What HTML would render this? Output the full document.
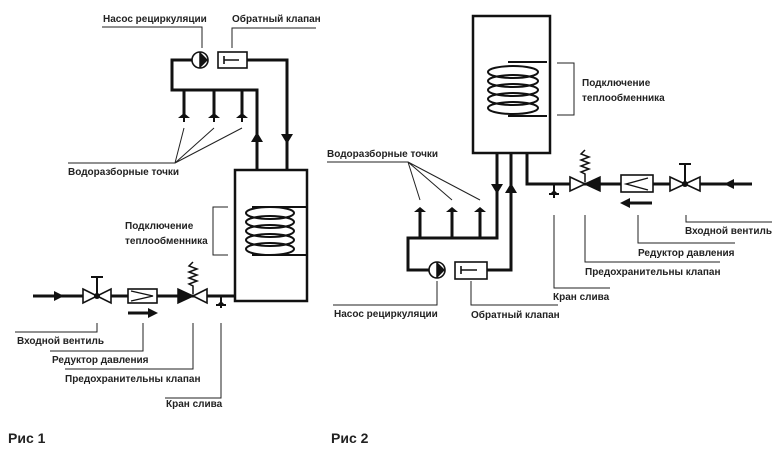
<!DOCTYPE html>
<html><head><meta charset="utf-8"><style>
html,body{margin:0;padding:0;background:#fff}
svg{display:block}
text{font-family:"Liberation Sans",sans-serif;font-size:10px;font-weight:bold;fill:#222}
.p{stroke:#111;stroke-width:3;fill:none}
.l{stroke:#222;stroke-width:1;fill:none}
.o{stroke:#111;stroke-width:1.6;fill:#fff}
</style></head><body>
<svg width="780" height="456" viewBox="0 0 780 456" xmlns="http://www.w3.org/2000/svg">
<!-- ===== FIG 1 ===== -->
<!-- recirculation loop -->
<path class="p" d="M192 60 H172 V90 H257 V170"/>
<path class="p" d="M247 60 H287 V170"/>
<path class="p" d="M184 90 V116 M214 90 V116 M242 90 V116"/>
<g fill="#111">
<path d="M178 118 L184 113 L190 118 Z"/><rect x="183" y="116" width="2" height="6"/>
<path d="M208 118 L214 113 L220 118 Z"/><rect x="213" y="116" width="2" height="6"/>
<path d="M236 118 L242 113 L248 118 Z"/><rect x="241" y="116" width="2" height="6"/>
<path d="M251 142 L257 132 L263 142 Z"/>
<path d="M281 134 L287 144 L293 134 Z"/>
</g>
<!-- pump -->
<circle class="o" cx="200" cy="60" r="8"/>
<path d="M200 52 L208 60 L200 68 Z" fill="#111"/>
<line x1="200" y1="52" x2="200" y2="68" stroke="#111" stroke-width="1.5"/>
<!-- check valve -->
<rect class="o" x="218" y="52" width="29" height="16"/>
<path d="M224 56 V64 M224 60 H239" stroke="#111" stroke-width="1.6"/>
<!-- labels top -->
<text x="103" y="22">Насос рециркуляции</text>
<path class="l" d="M102 27 H202 V48"/>
<text x="232" y="22">Обратный клапан</text>
<path class="l" d="M232 48 V28 H316"/>
<!-- water points leaders -->
<path class="l" d="M68 163 H175 L184 128 M175 163 L214 128 M175 163 L242 128"/>
<text x="68" y="175">Водоразборные точки</text>
<!-- tank -->
<rect x="235" y="170" width="72" height="131" fill="none" stroke="#111" stroke-width="2.5"/>
<g fill="none" stroke="#111" stroke-width="2">
<path d="M252 207 H307 M252 255 H307"/>
<ellipse cx="270" cy="213" rx="24" ry="6"/>
<ellipse cx="270" cy="222" rx="24" ry="6"/>
<ellipse cx="270" cy="231" rx="24" ry="6"/>
<ellipse cx="270" cy="240" rx="24" ry="6"/>
<ellipse cx="270" cy="249" rx="24" ry="6"/>
</g>
<path class="l" d="M228 207 H213 V255 H228"/>
<text x="125" y="229">Подключение</text>
<text x="125" y="244">теплообменника</text>
<!-- inlet line -->
<path class="p" d="M33 296 H235"/>
<path d="M54 291 L64 296 L54 301 Z" fill="#111"/>
<!-- inlet valve -->
<path class="o" d="M83 289 L111 303 V289 L83 303 Z"/>
<circle cx="97" cy="296" r="3" fill="#111"/>
<path d="M97 296 V277 M91 277 H103" stroke="#111" stroke-width="2"/>
<!-- reducer -->
<rect class="o" x="128" y="289" width="29" height="14"/>
<path d="M131 291 L153 296 L131 301" fill="none" stroke="#111" stroke-width="1.3"/>
<path d="M128 313 H150" stroke="#111" stroke-width="3"/>
<path d="M148 308 L158 313 L148 318 Z" fill="#111"/>
<!-- safety valve -->
<path d="M178 289 L193 296 L178 303 Z" fill="#111" stroke="#111" stroke-width="1.5"/>
<path class="o" d="M207 289 L193 296 L207 303 Z"/>
<path d="M193 294 V286 L189 284 L197 281 L189 278 L197 275 L189 272 L197 269 L189 266 L193 262" fill="none" stroke="#111" stroke-width="1.5"/>
<!-- drain -->
<path d="M221 296 V308 M216 305 H226" stroke="#111" stroke-width="2"/>
<path d="M217 305 L221 301 L225 305 Z" fill="#111"/>
<!-- leaders -->
<path class="l" d="M97 323 V332 H15"/>
<text x="17" y="344">Входной вентиль</text>
<path class="l" d="M143 323 V351 H50"/>
<text x="52" y="363">Редуктор давления</text>
<path class="l" d="M193 323 V369 H65"/>
<text x="65" y="382">Предохранительны клапан</text>
<path class="l" d="M221 323 V398 H165"/>
<text x="166" y="407">Кран слива</text>
<text x="8" y="443" style="font-size:14px">Рис 1</text>

<!-- ===== FIG 2 ===== -->
<rect x="473" y="16" width="77" height="137" fill="none" stroke="#111" stroke-width="2.5"/>
<g fill="none" stroke="#111" stroke-width="2">
<path d="M508 62 H547 M508 116 H547"/>
<ellipse cx="513" cy="72" rx="25" ry="6"/>
<ellipse cx="513" cy="81" rx="25" ry="6"/>
<ellipse cx="513" cy="90" rx="25" ry="6"/>
<ellipse cx="513" cy="99" rx="25" ry="6"/>
<ellipse cx="513" cy="108" rx="25" ry="6"/>
</g>
<path class="l" d="M557 63 H574 V115 H557"/>
<text x="582" y="86">Подключение</text>
<text x="582" y="101">теплообменника</text>
<!-- loop -->
<path class="p" d="M497 153 V238 H408 V270 H429"/>
<path class="p" d="M487 270 H511 V153"/>
<path class="p" d="M420 238 V212 M452 238 V212 M480 238 V212"/>
<g fill="#111">
<path d="M414 212 L420 207 L426 212 Z"/><rect x="419" y="210" width="2" height="6"/>
<path d="M446 212 L452 207 L458 212 Z"/><rect x="451" y="210" width="2" height="6"/>
<path d="M474 212 L480 207 L486 212 Z"/><rect x="479" y="210" width="2" height="6"/>
<path d="M491 184 L497 194 L503 184 Z"/>
<path d="M505 193 L511 183 L517 193 Z"/>
</g>
<circle class="o" cx="437" cy="270" r="8"/>
<path d="M437 262 L445 270 L437 278 Z" fill="#111"/>
<line x1="437" y1="262" x2="437" y2="278" stroke="#111" stroke-width="1.5"/>
<rect class="o" x="455" y="262" width="32" height="17"/>
<path d="M461 266 V274 M461 270 H477" stroke="#111" stroke-width="1.6"/>
<path class="l" d="M327 162 H408 L420 200 M408 162 L452 200 M408 162 L480 200"/>
<text x="327" y="157">Водоразборные точки</text>
<!-- outlet line -->
<path class="p" d="M527 153 V184 H752"/>
<path d="M734 179 L724 184 L734 189 Z" fill="#111"/>
<path d="M554 184 V198 M549 194 H559" stroke="#111" stroke-width="2"/>
<path d="M550 194 L554 190 L558 194 Z" fill="#111"/>
<path class="o" d="M570 177 L585 184 L570 191 Z"/>
<path d="M600 177 L585 184 L600 191 Z" fill="#111" stroke="#111" stroke-width="1.5"/>
<path d="M585 182 V174 L581 172 L589 169 L581 166 L589 163 L581 160 L589 157 L581 154 L585 150" fill="none" stroke="#111" stroke-width="1.5"/>
<rect class="o" x="621" y="175" width="32" height="17"/>
<path d="M648 178 L626 184 L648 190" fill="none" stroke="#111" stroke-width="1.3"/>
<path d="M628 203 H652" stroke="#111" stroke-width="3"/>
<path d="M630 198 L620 203 L630 208 Z" fill="#111"/>
<path class="o" d="M670 177 L700 191 V177 L670 191 Z"/>
<circle cx="685" cy="184" r="3" fill="#111"/>
<path d="M685 184 V164 M679 164 H691" stroke="#111" stroke-width="2"/>
<!-- leaders -->
<path class="l" d="M686 215 V222 H772"/>
<text x="685" y="234">Входной вентиль</text>
<path class="l" d="M638 215 V243 H735"/>
<text x="638" y="256">Редуктор давления</text>
<path class="l" d="M585 215 V262 H720"/>
<text x="585" y="275">Предохранительны клапан</text>
<path class="l" d="M554 215 V288 H610"/>
<text x="553" y="300">Кран слива</text>
<path class="l" d="M437 281 V305 H333"/>
<text x="334" y="317">Насос рециркуляции</text>
<path class="l" d="M471 281 V305 H558"/>
<text x="471" y="318">Обратный клапан</text>
<text x="331" y="443" style="font-size:14px">Рис 2</text>
</svg>
</body></html>
